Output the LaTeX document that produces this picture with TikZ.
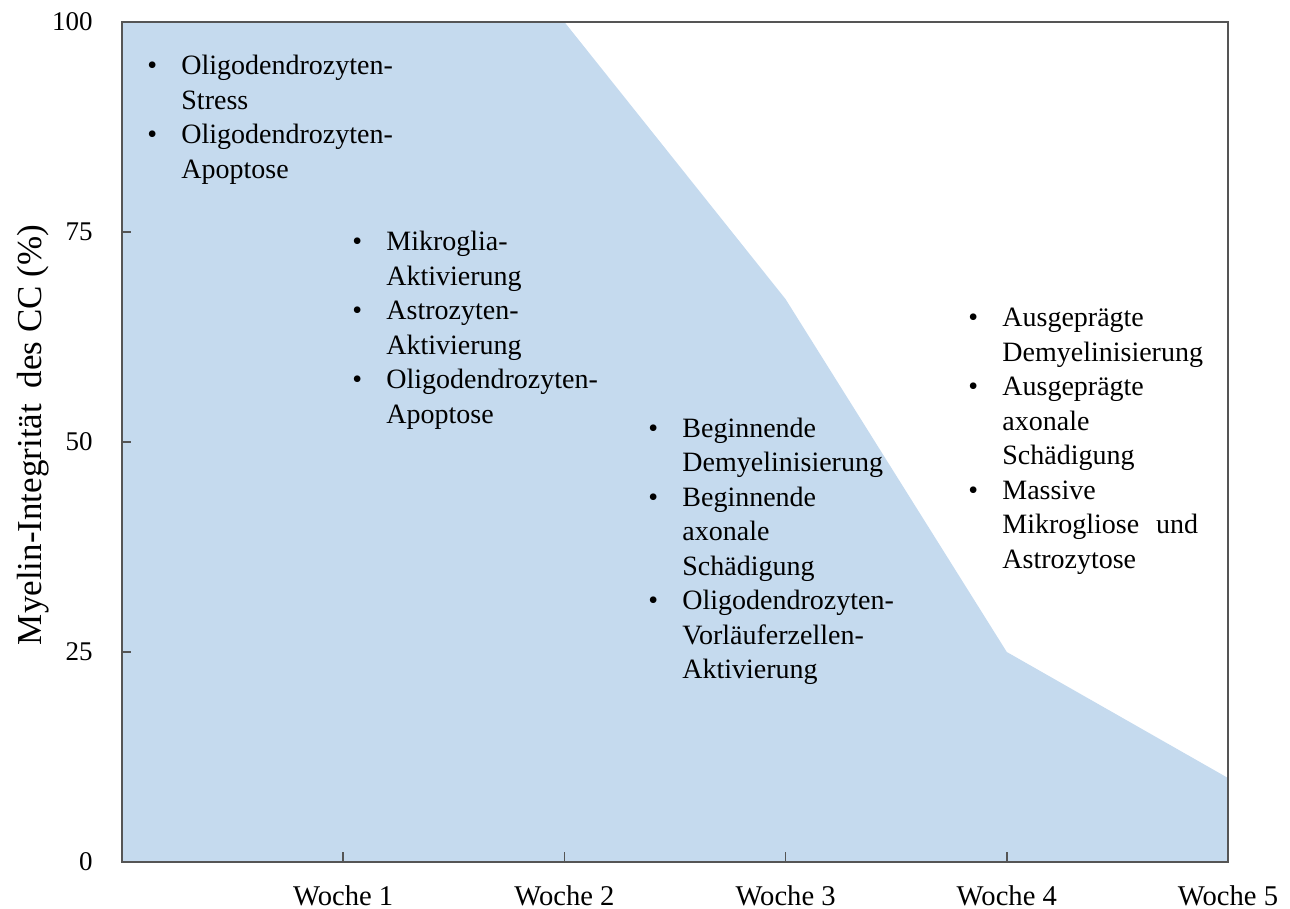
\documentclass[tikz,border=0pt]{standalone}
\usepackage{fontspec}
\setmainfont{Liberation Serif}
\definecolor{areablue}{HTML}{C5DAEE}
\definecolor{axisgray}{HTML}{555555}
\newcommand\bul{\makebox[17pt][l]{\textbullet}}
\begin{document}
\begin{tikzpicture}[x=0.5pt,y=-0.5pt,
  lst/.style={inner sep=0pt, anchor=base west, font=\fontsize{14}{17.25}\selectfont},
  ticklab/.style={inner sep=0pt, anchor=east, font=\fontsize{13.5}{16}\selectfont},
  weeklab/.style={inner sep=0pt, anchor=base, font=\fontsize{14.3}{17}\selectfont},
  axisline/.style={draw=axisgray, line width=0.8pt},
  tickmark/.style={draw=axisgray, line width=0.8pt}]
\useasboundingbox (0,0) rectangle (1290,909);
\begin{scope}[shift={(122,862)}, x=110.6pt, y=4.2pt]
  \fill[areablue] (0,0) -- (0,100) -- (2,100) -- (3,67) -- (4,25) -- (5,10) -- (5,0) -- cycle;
  \draw[axisline] (0,0) rectangle (5,100);
  \foreach \w in {1,...,4} {\draw[tickmark] (\w,0) -- ++(0,1.2);}
  \foreach \v in {25,50,75} {\draw[tickmark] (0,\v) -- ++(0.04,0);}
  \foreach \w in {1,...,5} {\node[weeklab] (w\w) at (\w,-5.12) {Woche \w};}
  \foreach \v in {0,25,50,75,100} {\node[ticklab] (v\v) at (-0.131,\v) {\v};}
\end{scope}
\node[rotate=90, inner sep=0pt, font=\fontsize{17.5}{20}\selectfont] (ytitle) at (33,435)
  {Myelin-Integrität\hspace{0.45em}des CC (\%)};
\node[lst] (g1) at (147,75) {\begin{tabular}[t]{@{}l@{}l@{}}
\bul & Oligodendrozyten-\\
 & Stress\\
\bul & Oligodendrozyten-\\
 & Apoptose
\end{tabular}};
\node[lst] (g2) at (352,251) {\begin{tabular}[t]{@{}l@{}l@{}}
\bul & Mikroglia-\\
 & Aktivierung\\
\bul & Astrozyten-\\
 & Aktivierung\\
\bul & Oligodendrozyten-\\
 & Apoptose
\end{tabular}};
\node[lst] (g3) at (648,437) {\begin{tabular}[t]{@{}l@{}l@{}}
\bul & Beginnende\\
 & Demyelinisierung\\
\bul & Beginnende\\
 & axonale\\
 & Schädigung\\
\bul & Oligodendrozyten-\\
 & Vorläuferzellen-\\
 & Aktivierung
\end{tabular}};
\node[lst] (g4) at (968,327) {\begin{tabular}[t]{@{}l@{}l@{}}
\bul & Ausgeprägte\\
 & Demyelinisierung\\
\bul & Ausgeprägte\\
 & axonale\\
 & Schädigung\\
\bul & Massive\\
 & Mikrogliose\hspace{0.6em}und\\
 & Astrozytose
\end{tabular}};
\end{tikzpicture}
\end{document}
